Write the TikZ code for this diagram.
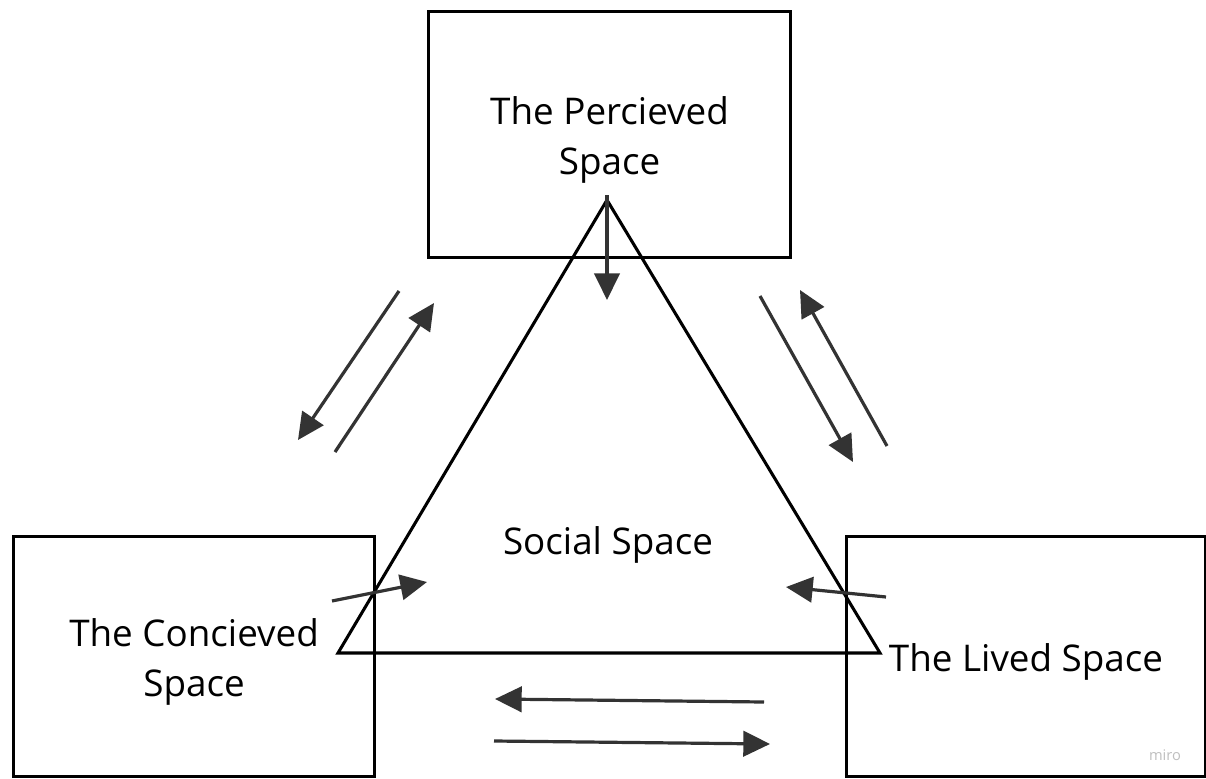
\documentclass[tikz,border=0pt]{standalone}
\usepackage{fontspec}
\setmainfont{Open Sans}
\usetikzlibrary{arrows.meta}
\definecolor{arr}{HTML}{333333}
\tikzset{
  box/.style={draw=black, line width=2.3pt, anchor=north west, inner sep=0pt},
  lbl/.style={inner sep=0pt, align=center, font=\fontsize{27.6}{37.5}\selectfont},
  con/.style={draw=arr, line width=2.4pt, -{Triangle[length=20pt,width=19pt]}},
  tri/.style={draw=black, line width=2.3pt, line join=miter},
}
\begin{document}
\begin{tikzpicture}[x=0.75pt,y=-0.75pt]
\useasboundingbox (0,0) rectangle (1206,778);
\fill[white] (0,0) rectangle (1206,778);
% boxes
\node[box, minimum width=271.5pt, minimum height=184.5pt] (perc) at (427,10) {};
\node[box, minimum width=270.75pt, minimum height=180pt] (conc) at (12,535) {};
\node[box, minimum width=269.25pt, minimum height=180pt] (lived) at (845,535) {};
\node[lbl] (perct) at ([yshift=-4pt]perc.center) {The Percieved\\Space};
\node[lbl] (conct) at ([yshift=-4pt]conc.center) {The Concieved\\Space};
\node[lbl] (livedt) at ([yshift=-4pt]lived.center) {The Lived Space};
% triangle
\coordinate (apex) at (607,200);
\coordinate (bl) at (338,653);
\coordinate (br) at (880,653);
\draw[tri] (apex) -- (bl) -- (br) -- cycle;
\node[lbl] (social) at (608,545) {Social Space};
% arrows
\coordinate (v1) at (607,195); \coordinate (v2) at (607,300);
\draw[con] (v1) -- (v2);
\coordinate (l1a) at (399,291); \coordinate (l1b) at (298,440);
\draw[con] (l1a) -- (l1b);
\coordinate (l2a) at (335,452); \coordinate (l2b) at (434,303);
\draw[con] (l2a) -- (l2b);
\coordinate (r1a) at (760,296); \coordinate (r1b) at (853,462);
\draw[con] (r1a) -- (r1b);
\coordinate (r2a) at (887,446); \coordinate (r2b) at (800,290);
\draw[con] (r2a) -- (r2b);
\coordinate (sl1) at (332,601); \coordinate (sl2) at (427,582);
\draw[con] (sl1) -- (sl2);
\coordinate (sr1) at (886,597); \coordinate (sr2) at (786,587);
\draw[con] (sr1) -- (sr2);
\coordinate (b1a) at (764,702); \coordinate (b1b) at (495,699);
\draw[con] (b1a) -- (b1b);
\coordinate (b2a) at (494,741); \coordinate (b2b) at (770,744);
\draw[con] (b2a) -- (b2b);
% watermark
\node[text=black!25, font=\fontsize{11}{13}\selectfont, inner sep=0pt] (miro) at (1165,755) {miro};
\end{tikzpicture}
\end{document}
